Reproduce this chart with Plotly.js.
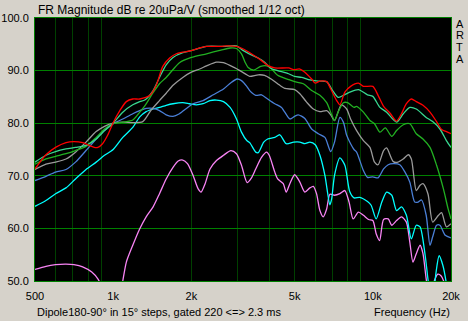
<!DOCTYPE html>
<html>
<head>
<meta charset="utf-8">
<script src="https://cdn.plot.ly/plotly-3.0.1.min.js"></script>
<style>
html,body{margin:0;padding:0;background:#d6d2ca;}
#chart{width:468px;height:321px;}
</style>
</head>
<body>
<div id="chart"></div>
<script>
// ---- data (frequency in Hz, level in dB) ----
const f180 = [500,551,600,658,706,763,807,846,873,910,952,1000,1061,1124,1190,1266,1385,1465,1553,1650,1750,1854,2000,2153,2289,2600,2735,2985,3172,3405,3726,3935,4192,4740,4954,5236,5473,5812,6000,6254,6640,6886,7258,7466,7803,8211,8800,9198,10000,10475,11000,11656,12343,12892,13467,14073,14700,15600,16600,17600,18400,19200,20000];
const db180 = [71.3,74.0,75.4,76.3,76.5,76.3,75.8,75.4,75.4,76.1,77.7,80.1,82.4,84.1,84.6,84.6,85.3,87.2,90.8,92.4,93.2,93.5,93.8,94.3,94.6,94.6,94.7,94.6,94.1,93.2,91.9,91.0,90.5,90.5,90.2,90.3,89.7,88.4,87.6,88.0,87.9,86.5,84.3,83.5,85.9,87.0,87.6,87.0,87.0,85.3,83.2,81.9,80.4,81.8,83.7,84.6,84.1,83.4,82.1,80.3,78.8,78.4,78.0];

const f165 = [500,551,600,658,716,786,860,926,1000,1089,1190,1266,1324,1425,1508,1600,1700,1854,2000,2289,2660,2985,3172,3405,3620,3830,4060,4300,4740,5000,5320,5650,6170,6640,7000,7350,7700,8146,8800,9540,10000,10650,11300,12343,13100,13880,14700,16050,17000,18130,19200,20000];
const db165 = [72.6,73.9,74.6,75.1,75.4,75.8,77.0,78.6,80.0,82.1,83.5,84.1,84.4,86.2,88.7,91.1,92.5,93.4,93.8,94.6,94.6,94.7,93.8,93.0,92.4,91.6,90.4,90.0,89.4,88.9,88.7,88.3,88.0,87.9,86.2,84.9,85.3,85.9,86.4,85.4,85.1,83.0,82.1,80.2,81.8,83.0,82.7,81.1,80.3,78.9,76.7,75.4];

const f150 = [500,551,600,658,716,786,860,926,1000,1089,1190,1266,1324,1425,1508,1600,1700,1800,2000,2289,2600,2820,2985,3120,3221,3310,3480,3700,3900,4060,4300,4740,5000,5400,5812,6254,6640,6940,7120,7350,7700,8000,8463,8660,9198,9747,10150,10650,11170,11830,12343,13100,13880,14700,15600,16600,17600,18700,19500,20000];
const db150 = [72.2,73.2,73.7,74.2,74.8,75.6,77.3,78.9,79.9,80.2,80.6,82.1,83.3,85.8,87.5,88.7,90.2,91.5,92.5,93.2,93.9,94.3,94.2,93.2,91.6,90.6,90.1,90.8,90.9,90.4,89.1,88.3,87.9,87.5,86.2,85.3,83.9,81.6,80.5,82.1,83.9,83.9,83.0,83.2,82.1,80.5,79.9,78.3,79.1,77.5,78.6,79.7,79.9,78.0,77.0,75.4,72.0,67.5,63.7,61.8];

const f135 = [500,551,600,658,716,786,860,926,1000,1089,1190,1300,1400,1508,1600,1700,1854,2000,2153,2289,2500,2660,2920,3075,3270,3356,3620,3830,4060,4300,4583,5000,5236,5560,5900,6254,6640,6905,7120,7560,7930,8211,8660,9198,9747,10150,10475,11000,11300,11990,12500,13100,13700,14073,14700,15200,15600,16300,17000,17900,18400,19200,20000];
const db135 = [71.2,72.2,72.6,73.2,74.5,76.4,78.4,79.4,80.0,80.2,80.1,80.3,82.5,84.3,85.7,87.2,88.7,89.7,90.3,90.9,91.6,91.5,90.6,90.0,89.2,88.9,89.2,89.1,88.4,87.5,86.6,86.4,85.6,84.0,82.7,82.2,82.4,81.5,80.5,83.5,82.7,80.8,78.6,76.7,75.4,72.6,72.1,74.8,75.3,72.7,72.6,73.2,74.0,73.2,67.2,68.2,68.5,66.6,61.2,62.5,63.0,60.3,60.9];

const f120 = [500,551,600,658,716,786,860,926,1000,1089,1190,1266,1340,1425,1508,1600,1700,1800,1915,2030,2220,2430,2660,2840,3000,3120,3270,3356,3540,3726,3935,4192,4450,4790,5000,5160,5473,5812,6170,6538,6886,7120,7466,7700,7930,8211,8463,8660,9198,9540,10000,10475,11000,11460,11990,12700,13300,13880,14500,14950,15400,16050,16600,17000,17600,18130,19000,20000];
const db120 = [69.1,69.9,70.7,71.2,72.6,74.8,77.0,78.6,79.9,80.8,81.8,82.4,82.8,82.8,82.4,81.6,81.3,81.8,82.8,83.7,84.3,85.4,86.5,87.7,88.4,88.1,87.0,86.2,85.3,85.4,84.6,83.7,83.0,80.8,81.3,81.6,80.9,78.9,78.0,77.3,74.6,76.4,81.1,80.2,77.7,76.1,75.0,74.5,71.0,69.7,69.8,69.6,71.3,72.1,72.3,72.1,70.7,68.8,65.0,65.0,65.4,62.5,56.8,58.4,60.6,60.6,58.7,58.2];

const f105 = [500,551,600,658,716,786,860,926,1000,1089,1190,1266,1340,1425,1508,1600,1700,1854,1967,2090,2220,2360,2500,2660,2820,2985,3120,3270,3356,3540,3620,3800,3935,4192,4385,4640,4954,5236,5473,5722,6000,6254,6538,6834,6940,7120,7466,7803,8146,8463,8900,9540,9850,10300,10830,11300,11830,12343,12892,13467,14073,14700,15200,15900,16300,16800,17200,17500,18000,18600,19200,19600,20000];
const db105 = [64.2,65.3,66.6,67.7,69.4,71.2,72.6,73.9,75.0,77.3,79.2,81.2,82.2,82.7,83.0,83.4,83.7,83.9,83.7,83.5,83.7,84.3,84.4,84.1,83.0,80.8,78.3,76.7,76.3,74.5,74.4,76.4,77.0,77.3,77.8,76.1,76.4,76.4,76.1,76.4,75.9,73.9,70.1,64.5,65.6,70.1,73.4,72.0,67.0,65.8,65.9,65.1,64.4,61.8,65.0,66.9,66.3,63.4,64.1,62.5,58.0,60.6,60.3,54.9,50.4,46.0,48.0,51.5,54.8,53.0,49.5,46.0,45.0];

const f90 = [500,551,600,658,706,763,827,873,910,960,1030,1070,1089,1124,1190,1262,1340,1425,1508,1600,1700,1780,1854,1933,2030,2125,2180,2260,2360,2500,2660,2840,2985,3120,3280,3400,3540,3726,3900,3990,4192,4300,4520,4640,4790,5000,5236,5473,5722,5900,6070,6254,6440,6640,6834,7120,7466,7803,8100,8400,8800,9198,9630,10000,10300,10620,11000,11460,11830,12343,12892,13467,13880,14270,14700,15200,15600,16050,16500,17000,17300,17800,18300,18800,19300,20000];
const db90 = [52.2,52.8,53.1,53.2,53.1,52.7,51.7,50.4,48.5,45.0,45.0,48.0,50.0,53.6,56.8,59.8,62.2,64.1,66.6,69.4,71.6,72.8,73.0,72.3,70.1,67.5,66.9,68.5,71.3,72.9,73.9,74.8,74.2,72.0,68.7,69.5,71.3,73.5,74.5,73.9,70.7,69.4,68.5,66.9,68.5,70.2,68.8,66.9,67.7,68.0,66.6,63.4,62.2,63.7,66.5,66.3,66.6,67.2,65.0,61.8,63.1,62.5,61.7,61.5,59.0,57.7,61.7,61.8,60.6,61.5,62.2,61.2,57.4,53.6,55.2,56.8,55.2,50.4,47.0,48.5,50.2,51.3,51.0,49.8,47.0,45.0];

const xTickVals = [500,1000,2000,5000,10000,20000];
const xTickText = ['500','1k','2k','5k','10k','20k'];
const xMinorGrid = [600,700,800,900,2000,3000,4000,5000,6000,7000,8000,9000];
const xMajorGrid = [1000,10000];
const yTickVals = [50,60,70,80,90,100];

// ---- traces ----
const series = [
  {x:f90,  y:db90,  c:'#f884f4', n:'90°'},
  {x:f105, y:db105, c:'#00ffff', n:'105°'},
  {x:f120, y:db120, c:'#4a7fd6', n:'120°'},
  {x:f135, y:db135, c:'#9a9a9a', n:'135°'},
  {x:f150, y:db150, c:'#22b022', n:'150°'},
  {x:f165, y:db165, c:'#38d890', n:'165°'},
  {x:f180, y:db180, c:'#ff0000', n:'180°'}
];
const traces = series.map(s => ({
  type:'scatter', mode:'lines', x:s.x, y:s.y, name:s.n,
  line:{color:s.c, width:1.3, shape:'spline', smoothing:0.7},
  hoverinfo:'skip', showlegend:false
}));

const txt = {family:'"Liberation Sans", Arial, sans-serif', size:11, color:'#000'};
const xr = [Math.log10(500), Math.log10(20000)];

const layout = {
  width:468, height:321,
  margin:{l:35, r:17, t:18, b:40, pad:0},
  paper_bgcolor:'#d6d2ca', plot_bgcolor:'#000000',
  font:txt,
  showlegend:false,
  xaxis:{
    type:'log', range:xr, tickmode:'array', tickvals:xTickVals, ticktext:xTickText,
    showgrid:false, zeroline:false, ticks:'', ticklabelstandoff:5,
    showline:true, mirror:true, linecolor:'#008000', linewidth:1,
    tickfont:txt,
    minor:{tickmode:'array', tickvals:xMinorGrid, showgrid:true, gridcolor:'#004000', gridwidth:1, ticks:''}
  },
  xaxis2:{
    type:'log', range:xr, overlaying:'x', anchor:'y', tickmode:'array', tickvals:xMajorGrid,
    showgrid:true, gridcolor:'#008000', gridwidth:1, showticklabels:false, ticks:'', zeroline:false, showline:false
  },
  yaxis:{
    range:[50,100], tickmode:'array', tickvals:yTickVals, tickformat:'.1f',
    showgrid:true, gridcolor:'#008000', gridwidth:1, zeroline:false, ticks:'', ticklabelstandoff:3,
    showline:true, mirror:true, linecolor:'#008000', linewidth:1,
    tickfont:txt
  },
  annotations:[
    {text:'FR Magnitude dB re 20uPa/V (smoothed 1/12 oct)', xref:'paper', yref:'paper', x:0.002, y:1.0323, xanchor:'left', yanchor:'middle', showarrow:false, font:{family:txt.family, size:12, color:'#000'}},
    {text:'Dipole180-90° in 15° steps, gated 220 &lt;=&gt; 2.3 ms', xref:'paper', yref:'paper', x:0.0, y:-0.116, xanchor:'left', yanchor:'middle', showarrow:false, font:txt},
    {text:'Frequency (Hz)', xref:'paper', yref:'paper', x:1.002, y:-0.116, xanchor:'right', yanchor:'middle', showarrow:false, font:txt},
    {text:'A', xref:'paper', yref:'paper', x:1.0216, y:0.9772, xanchor:'center', yanchor:'middle', showarrow:false, font:txt},
    {text:'R', xref:'paper', yref:'paper', x:1.0216, y:0.9335, xanchor:'center', yanchor:'middle', showarrow:false, font:txt},
    {text:'T', xref:'paper', yref:'paper', x:1.0216, y:0.8897, xanchor:'center', yanchor:'middle', showarrow:false, font:txt},
    {text:'A', xref:'paper', yref:'paper', x:1.0216, y:0.846, xanchor:'center', yanchor:'middle', showarrow:false, font:txt}
  ]
};

Plotly.newPlot('chart', traces, layout, {staticPlot:true, displayModeBar:false});
</script>
</body>
</html>
